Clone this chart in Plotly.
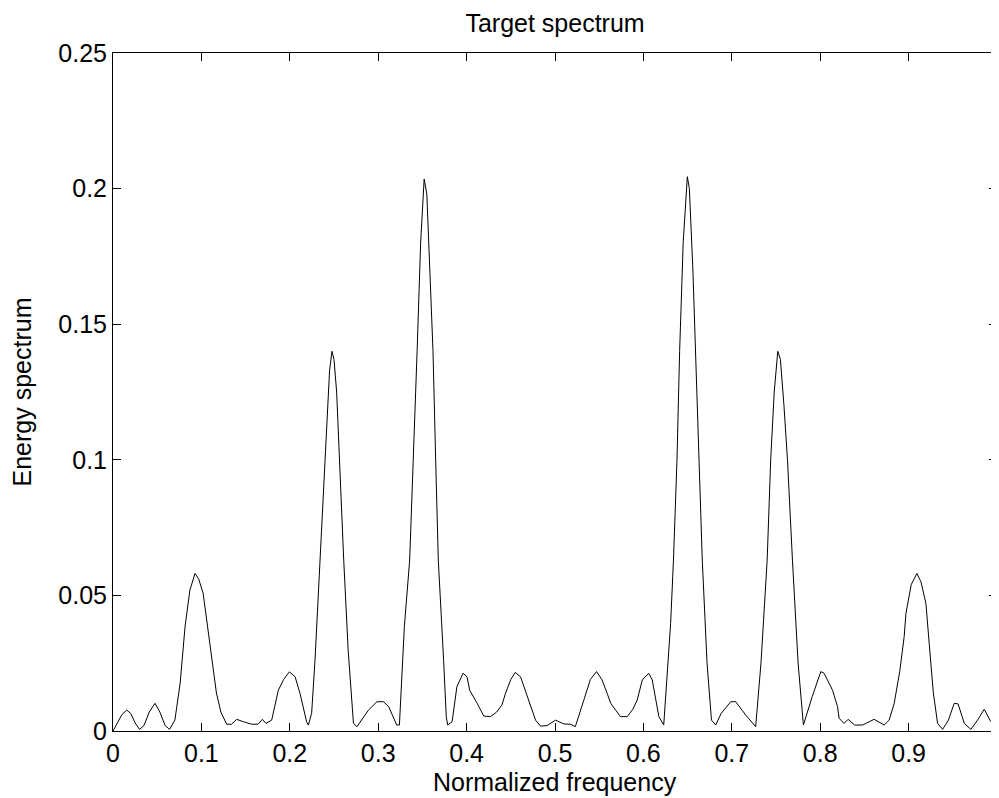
import plotly.graph_objects as go

freq = [
    0.0, 0.005, 0.010, 0.0155, 0.020, 0.025, 0.030, 0.035, 0.041, 0.0475,
    0.053, 0.059, 0.064, 0.070, 0.076, 0.0815, 0.087, 0.0928, 0.097, 0.102,
    0.106, 0.110, 0.115, 0.117, 0.122, 0.1286, 0.134, 0.140, 0.1475, 0.157,
    0.164, 0.169, 0.173, 0.1795, 0.187, 0.193, 0.1995, 0.206, 0.2115, 0.216,
    0.219, 0.221, 0.2247, 0.2285, 0.234, 0.238, 0.242, 0.245, 0.2477, 0.250,
    0.253, 0.256, 0.261, 0.266, 0.272, 0.276, 0.2854, 0.289, 0.2986, 0.306,
    0.3118, 0.321, 0.324, 0.3296, 0.3356, 0.340, 0.344, 0.348, 0.352, 0.355,
    0.358, 0.362, 0.365, 0.368, 0.374, 0.377, 0.3786, 0.3836, 0.389, 0.396,
    0.4005, 0.4035, 0.412, 0.4194, 0.427, 0.434, 0.440, 0.444, 0.450, 0.455,
    0.461, 0.4685, 0.478, 0.4836, 0.491, 0.5006, 0.51, 0.5176, 0.523, 0.5326,
    0.540, 0.547, 0.553, 0.559, 0.563, 0.574, 0.5818, 0.588, 0.593, 0.5987,
    0.606, 0.610, 0.6175, 0.623, 0.6308, 0.634, 0.638, 0.641, 0.645, 0.6497,
    0.652, 0.656, 0.660, 0.663, 0.6666, 0.672, 0.677, 0.6818, 0.688, 0.6988,
    0.7044, 0.7157, 0.727, 0.733, 0.740, 0.744, 0.748, 0.752, 0.755, 0.759,
    0.763, 0.7686, 0.775, 0.781, 0.791, 0.8007, 0.8044, 0.814, 0.8196, 0.8214,
    0.827, 0.8316, 0.839, 0.848, 0.861, 0.8724, 0.878, 0.8837, 0.890, 0.895,
    0.897, 0.903, 0.9094, 0.914, 0.9196, 0.9233, 0.928, 0.9328, 0.9385, 0.945,
    0.9516, 0.956, 0.963, 0.9705, 0.978, 0.9856, 0.992, 0.999,
]

energy = [
    0.0, 0.003, 0.006, 0.0077, 0.0065, 0.003, 0.0006, 0.002, 0.007, 0.0102,
    0.007, 0.002, 0.0006, 0.004, 0.0177, 0.0385, 0.052, 0.0581, 0.056, 0.0507,
    0.041, 0.032, 0.020, 0.014, 0.007, 0.0025, 0.0025, 0.0043, 0.0034, 0.0025,
    0.0025, 0.0043, 0.0028, 0.004, 0.015, 0.019, 0.0218, 0.020, 0.0139, 0.007,
    0.0034, 0.0022, 0.0065, 0.026, 0.063, 0.09, 0.118, 0.133, 0.14, 0.137,
    0.125, 0.10, 0.063, 0.03, 0.0028, 0.0016, 0.0059, 0.0077, 0.0108, 0.0108,
    0.009, 0.0022, 0.0022, 0.0385, 0.063, 0.1, 0.14, 0.18, 0.2035, 0.198,
    0.175, 0.14, 0.10, 0.063, 0.026, 0.0053, 0.0022, 0.0034, 0.0163, 0.0213,
    0.020, 0.015, 0.0102, 0.0055, 0.0053, 0.007, 0.0096, 0.0139, 0.019, 0.0216,
    0.020, 0.0127, 0.004, 0.0018, 0.002, 0.004, 0.0026, 0.0025, 0.0016, 0.0114,
    0.019, 0.0219, 0.019, 0.0139, 0.0102, 0.0053, 0.0053, 0.008, 0.0114, 0.0188,
    0.0213, 0.0188, 0.0053, 0.0022, 0.0397, 0.063, 0.1, 0.14, 0.18, 0.2044,
    0.2, 0.17, 0.13, 0.1, 0.063, 0.025, 0.004, 0.0022, 0.0065, 0.0108,
    0.0108, 0.0059, 0.0016, 0.025, 0.063, 0.1, 0.125, 0.14, 0.137, 0.12,
    0.1, 0.063, 0.025, 0.0022, 0.0127, 0.0219, 0.0213, 0.015, 0.009, 0.0047,
    0.0028, 0.0043, 0.0022, 0.0022, 0.0043, 0.0022, 0.004, 0.0102, 0.022, 0.0348,
    0.0434, 0.054, 0.0581, 0.055, 0.047, 0.0323, 0.014, 0.0028, 0.0006, 0.004,
    0.0102, 0.01, 0.0028, 0.0006, 0.004, 0.008, 0.004, 0.001,
]

x_ticks = [0, 0.1, 0.2, 0.3, 0.4, 0.5, 0.6, 0.7, 0.8, 0.9, 1]
x_tick_labels = ["0", "0.1", "0.2", "0.3", "0.4", "0.5", "0.6", "0.7", "0.8", "0.9", "1"]
y_ticks = [0, 0.05, 0.1, 0.15, 0.2, 0.25]
y_tick_labels = ["0", "0.05", "0.1", "0.15", "0.2", "0.25"]

FONT = "Liberation Sans, Arial, sans-serif"
FS = 25

fig = go.Figure()
fig.add_trace(go.Scatter(x=freq, y=energy, mode="lines",
                         line=dict(color="black", width=1), showlegend=False))

axis_common = dict(
    showgrid=False, zeroline=False, showline=True, linecolor="black", linewidth=1,
    mirror="ticks", ticks="inside", ticklen=8, tickcolor="black", tickwidth=1,
    tickfont=dict(family=FONT, size=FS, color="black"),
    automargin=False, ticklabeloverflow="allow",
)

# the page body adds an 8px offset, so margins are shifted by 8px
fig.update_layout(
    width=999, height=798,
    margin=dict(l=105, r=10, t=45, b=75),
    paper_bgcolor="white", plot_bgcolor="white",
    title=dict(text="Target spectrum", x=0.5476, xanchor="center",
               y=0.9812, yanchor="middle", font=dict(family=FONT, size=FS, color="black")),
    xaxis=dict(range=[0, 1], tickvals=x_ticks, ticktext=x_tick_labels, **axis_common),
    yaxis=dict(range=[0, 0.25], tickvals=y_ticks, ticktext=y_tick_labels, **axis_common),
    annotations=[
        dict(text="Normalized frequency", xref="paper", yref="paper", x=0.5, y=-0.0745,
             xanchor="center", yanchor="middle", showarrow=False,
             font=dict(family=FONT, size=FS, color="black")),
        dict(text="Energy spectrum", xref="paper", yref="paper", x=-0.1024, y=0.5,
             xanchor="center", yanchor="middle", textangle=-90, showarrow=False,
             font=dict(family=FONT, size=FS, color="black")),
    ],
)

fig.write_html("out.html")
